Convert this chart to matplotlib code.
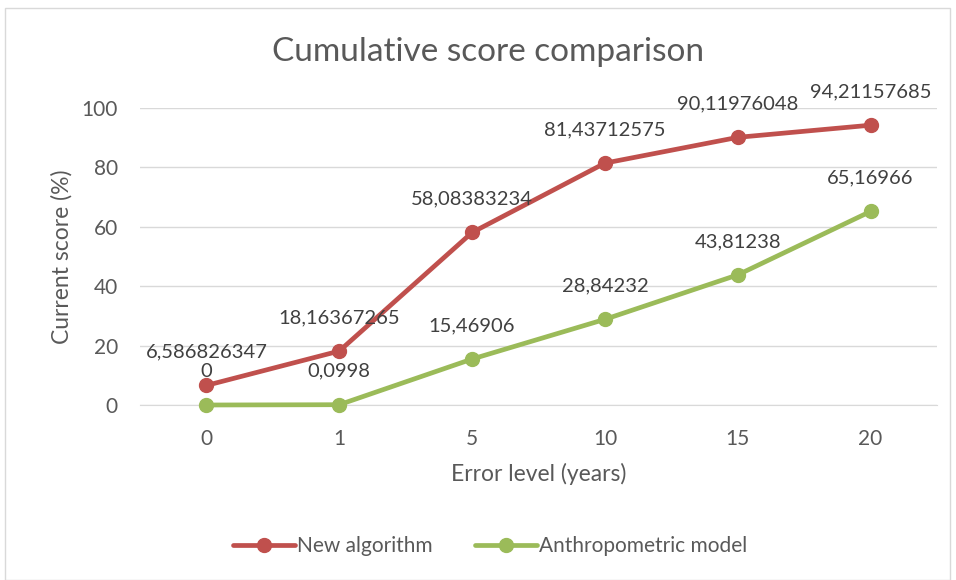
import matplotlib
matplotlib.use("Agg")
import matplotlib.pyplot as plt
from matplotlib.patches import Rectangle

categories = ["0", "1", "5", "10", "15", "20"]
new_algorithm = [6.586826347, 18.16367265, 58.08383234, 81.43712575, 90.11976048, 94.21157685]
anthropometric = [0, 0.0998, 15.46906, 28.84232, 43.81238, 65.16966]
new_labels = ["6,586826347", "18,16367265", "58,08383234", "81,43712575", "90,11976048", "94,21157685"]
anthro_labels = ["0", "0,0998", "15,46906", "28,84232", "43,81238", "65,16966"]

RED = "#C0504D"
GREEN = "#9BBB59"
TEXT = "#595959"

plt.rcParams["font.family"] = ["Lato", "DejaVu Sans"]

fig = plt.figure(figsize=(9.56, 5.8), dpi=100)
fig.patches.append(Rectangle((5 / 956, 0), 945 / 956, 572 / 580, transform=fig.transFigure,
                             fill=False, edgecolor="#D9D9D9", linewidth=1))
ax = fig.add_axes([140 / 956, 175 / 580, 797 / 956, 297 / 580])

x = list(range(len(categories)))
ax.plot(x, new_algorithm, color=RED, lw=3.4, marker="o", ms=10, label="New algorithm",
        solid_capstyle="round", zorder=3, clip_on=False)
ax.plot(x, anthropometric, color=GREEN, lw=3.4, marker="o", ms=10, label="Anthropometric model",
        solid_capstyle="round", zorder=3, clip_on=False)

for xi, v, t in zip(x, new_algorithm, new_labels):
    ax.annotate(t, (xi, v), xytext=(0, 24), textcoords="offset points",
                ha="center", va="center", fontsize=14.5, color="#404040")
for xi, v, t in zip(x, anthropometric, anthro_labels):
    ax.annotate(t, (xi, v), xytext=(0, 24), textcoords="offset points",
                ha="center", va="center", fontsize=14.5, color="#404040")

ax.set_xlim(-0.5, len(categories) - 0.5)
ax.set_ylim(0, 100)
ax.set_yticks(range(0, 101, 20))
ax.set_xticks(x)
ax.set_xticklabels(categories)
ax.grid(axis="y", color="#D9D9D9", lw=1)
ax.set_axisbelow(True)
for s in ["top", "right", "left"]:
    ax.spines[s].set_visible(False)
ax.spines["bottom"].set_color("#D9D9D9")
ax.tick_params(length=0, labelsize=15, colors=TEXT, pad=16)
ax.tick_params(axis="x", pad=17)

ax.set_xlabel("Error level (years)", fontsize=16.5, color=TEXT, labelpad=10)
ax.set_ylabel("Current score (%)", fontsize=16.5, color=TEXT, labelpad=6)
fig.text(488 / 956, 1 - 52 / 580, "Cumulative score comparison", ha="center", va="center",
         fontsize=24, color=TEXT)

fig.legend(loc="center", bbox_to_anchor=(490 / 956, 1 - 546 / 580), ncol=2, frameon=False,
           fontsize=15, labelcolor=TEXT, handlelength=3, columnspacing=2.0, handletextpad=0.1)

fig.savefig("out.png", dpi=100)
